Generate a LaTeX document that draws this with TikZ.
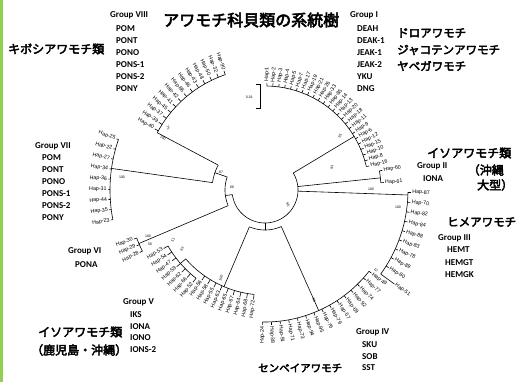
\documentclass[tikz,border=0pt]{standalone}
\usepackage{fontspec}
\setmainfont{Carlito}
\newfontfamily\jp[AutoFakeBold=3.5]{Noto Sans CJK JP}
\newfontfamily\hapf{Liberation Sans}
\definecolor{barg}{HTML}{92D050}
\tikzset{
  br/.style={line width=0.6pt, black},
  hap/.style={font=\hapf\fontsize{5.3}{5.3}\selectfont, inner sep=0.2pt},
  bsv/.style={font=\hapf\fontsize{3.5}{3.5}\selectfont, inner sep=0pt},
  grp/.style={font=\bfseries\fontsize{9}{9}\selectfont, anchor=west, inner sep=0pt},
  jlab/.style={font=\jp\bfseries\fontsize{12}{12}\selectfont, anchor=west, inner sep=0pt},
}
\newcommand\parc[3]{\draw[br] plot[variable=\t, domain=#1:#2, samples=50] ({265+#3*cos(\t)},{190+#3*sin(\t)});}
\newcommand\radl[3]{\draw[br] ({265+#2*cos(#1)},{190+#2*sin(#1)}) -- ({265+#3*cos(#1)},{190+#3*sin(#1)});}
\newcommand\hapleaf[4]{%
  \radl{#1}{#2}{#3}%
  \pgfmathtruncatemacro\hsd{cos(#1)>=0}%
  \ifnum\hsd=1
    \node[hap,anchor=west,rotate={-(#1)},name=lf#4] at ({265+(#3+1)*cos(#1)},{190+(#3+1)*sin(#1)}) {#4};%
  \else
    \node[hap,anchor=east,rotate={180-(#1)},name=lf#4] at ({265+(#3+1)*cos(#1)},{190+(#3+1)*sin(#1)}) {#4};%
  \fi}
\newcommand\leaves[5]{\foreach \nm [count=\k from 0] in {#5} {\pgfmathsetmacro\ang{#1+#2*\k}\hapleaf{\ang}{#3}{#4}{Hap-\nm}}}
\begin{document}
\begin{tikzpicture}[x=1pt,y=-1pt]
\useasboundingbox (0,0) rectangle (517,382);
\fill[white] (0,0) rectangle (517,382);
\fill[barg] (0,0) rectangle (2.5,382);
\coordinate (O) at (265,190);
% root
\parc{-31}{172}{33}
\radl{172}{33}{40}
\parc{157}{199}{40}
\radl{199}{40}{53}
\parc{188}{208}{53}
% Group VII
\radl{188}{53}{155}
\parc{169}{199}{155}
\leaves{169}{3.75}{155}{157}{23,35,44,31,36,34,27,22,25}
% Group VIII (top)
\radl{208}{53}{122}
\parc{208}{251}{122}
\leaves{209}{3.5}{122}{126}{40,39,37,45,41,42,86,46,43,48,50,32,90}
% Group VI
\radl{157}{40}{137}
\parc{153.5}{159.5}{137}
\leaves{153.5}{3}{137}{140}{28,29,30}
% lower node
\radl{90}{33}{40}
\parc{66}{113}{40}
% Group V
\radl{113}{40}{105}
\parc{96}{139}{105}
\leaves{96}{3.625}{105}{110}{72,68,64,67,65,63,55,58,56}
\radl{139}{105}{112}
\parc{128}{150}{112}
\leaves{128}{3.667}{112}{117}{52,66,62,59,47,54,53}
% Group IV
\radl{66}{40}{132}
\parc{38}{91}{132}
\leaves{38}{3.786}{132}{135}{49,77,74,92,69,57,79,76,95,94,73,71,91,38,24}
% Group III
\radl{2}{33}{143}
\parc{1}{36}{143}
\leaves{1}{3.89}{143}{146}{87,70,82,84,88,83,78,89,80}
\hapleaf{36}{143}{160}{Hap-51}
% Group II
\radl{-6}{33}{116}
\parc{-9.5}{-3.6}{116}
\hapleaf{-9.5}{116}{119}{Hap-60}
\hapleaf{-3.6}{116}{119}{Hap-61}
% Group I
\radl{-31}{33}{104}
\parc{-89}{-13}{104}
\leaves{-89}{3.304}{104}{107}{1,2,3,4,5,7,17,19,21,26,33,85,14,13,20,18,11,9,6,12,15,10,8,16}
% scale bar
\coordinate (sb1) at (260,84);
\coordinate (sb2) at (260,108);
\draw[br] ([xshift=-4pt]sb1) -- (sb1) -- (sb2) -- ([xshift=-4pt]sb2);
\node[bsv,anchor=east] (sbl) at (253,97) {0.01};
% bootstrap values
\node[bsv] (b1) at (122,177) {100};
\node[bsv] (b2) at (221,172) {87};
\node[bsv] (b3) at (232,187) {66};
\node[bsv] (b4) at (148,236) {100};
\node[bsv] (b5) at (150,244) {56};
\node[bsv,rotate=60] (b6) at (173,240) {51};
\node[bsv,rotate=60] (b7) at (182,249) {83};
\node[bsv,rotate=70] (b8) at (221,278) {100};
\node[bsv,rotate=-70] (b9) at (314,300) {98};
\node[bsv] (b10) at (371,189) {100};
\node[bsv] (b11) at (398,207) {100};
\node[bsv,rotate=-30] (b12) at (163,138) {100};
\node[bsv,rotate=-60] (b13) at (168,128) {75};
\node[bsv,rotate=60] (b14) at (340,136) {95};
\node[bsv,rotate=80] (b15) at (332,167) {93};
\node[bsv,rotate=-60] (b16) at (288,205) {96};
\node[bsv,rotate=-50] (b17) at (376,270) {12};
% title
\node[jlab,font=\jp\bfseries\fontsize{16}{16}\selectfont] (title) at (163,20) {アワモチ科貝類の系統樹};
% Group VIII
\node[jlab] (j8) at (8,49) {キボシアワモチ類};
\node[grp] (g8) at (110,15) {Group VIII};
\node[grp] (g8a) at (116,29) {POM};
\node[grp] (g8b) at (116,41) {PONT};
\node[grp] (g8c) at (116,53) {PONO};
\node[grp] (g8d) at (116,65) {PONS-1};
\node[grp] (g8e) at (116,77) {PONS-2};
\node[grp] (g8f) at (116,89) {PONY};
% Group I
\node[grp] (g1) at (350,15) {Group I};
\node[grp] (g1a) at (357,29) {DEAH};
\node[grp] (g1b) at (357,41) {DEAK-1};
\node[grp] (g1c) at (357,53) {JEAK-1};
\node[grp] (g1d) at (357,65) {JEAK-2};
\node[grp] (g1e) at (357,77) {YKU};
\node[grp] (g1f) at (357,89) {DNG};
\node[jlab,font=\jp\bfseries\fontsize{11.5}{11.5}\selectfont] (j1a) at (397,33) {ドロアワモチ};
\node[jlab,font=\jp\bfseries\fontsize{11.5}{11.5}\selectfont] (j1b) at (397,50) {ジャコテンアワモチ};
\node[jlab,font=\jp\bfseries\fontsize{11.5}{11.5}\selectfont] (j1c) at (397,66) {ヤベガワモチ};
% Group II
\node[jlab] (j2a) at (427,153) {イソアワモチ類};
\node[jlab,anchor=east] (j2b) at (504,170) {（沖縄};
\node[jlab] (j2c) at (477,185) {大型）};
\node[grp] (g2) at (417,166) {Group II};
\node[grp] (g2a) at (423,179) {IONA};
% Group III
\node[jlab,font=\jp\bfseries\fontsize{11.5}{11.5}\selectfont] (j3) at (447,222) {ヒメアワモチ};
\node[grp] (g3) at (438,238) {Group III};
\node[grp] (g3a) at (447,250) {HEMT};
\node[grp] (g3b) at (445,263) {HEMGT};
\node[grp] (g3c) at (445,275) {HEMGK};
% Group IV
\node[grp] (g4) at (356,332) {Group IV};
\node[grp] (g4a) at (362,345) {SKU};
\node[grp] (g4b) at (362,357) {SOB};
\node[grp] (g4c) at (362,368) {SST};
\node[jlab,font=\jp\bfseries\fontsize{10.5}{10.5}\selectfont] (j4) at (258,368) {センベイアワモチ};
% Group V
\node[grp] (g5) at (123,302) {Group V};
\node[grp] (g5a) at (130,315) {IKS};
\node[grp] (g5b) at (130,327) {IONA};
\node[grp] (g5c) at (130,338) {IONO};
\node[grp] (g5d) at (130,350) {IONS-2};
\node[jlab] (j5a) at (38,332) {イソアワモチ類};
\node[jlab] (j5b) at (31,350) {（鹿児島・沖縄）};
% Group VI
\node[grp] (g6) at (68,251) {Group VI};
\node[grp] (g6a) at (75,265) {PONA};
% Group VII
\node[grp] (g7) at (35,146) {Group VII};
\node[grp] (g7a) at (42,158) {POM};
\node[grp] (g7b) at (42,170) {PONT};
\node[grp] (g7c) at (42,182) {PONO};
\node[grp] (g7d) at (42,194) {PONS-1};
\node[grp] (g7e) at (42,206) {PONS-2};
\node[grp] (g7f) at (42,218) {PONY};
\end{tikzpicture}
\end{document}
